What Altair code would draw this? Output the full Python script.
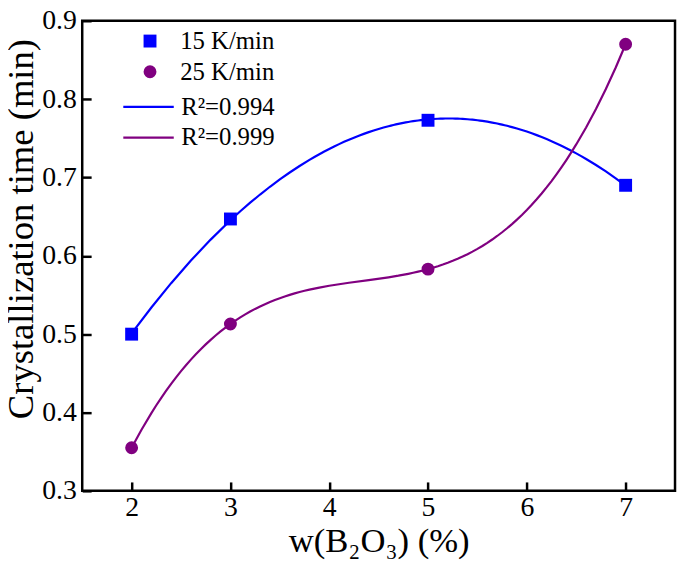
import altair as alt
import pandas as pd

# Data
w_b2o3 = [2, 3, 5, 7]
time_15 = [0.500, 0.647, 0.773, 0.690]
time_25 = [0.355, 0.513, 0.583, 0.870]
series_labels = ["15 K/min", "25 K/min"]
fit_labels = ["R²=0.994", "R²=0.999"]
fit_orders = [2, 3]
colors = ["#0000FF", "#800080"]
x_ticks = [2, 3, 4, 5, 6, 7]
y_ticks = [0.3, 0.4, 0.5, 0.6, 0.7, 0.8, 0.9]

df = pd.DataFrame({
    "x": w_b2o3 + w_b2o3,
    "y": time_15 + time_25,
    "rate": [series_labels[0]] * len(w_b2o3) + [series_labels[1]] * len(w_b2o3),
})

FONT = "Liberation Serif"

x_enc = alt.X("x:Q", scale=alt.Scale(domain=[1.5, 7.5], nice=False, zero=False),
              axis=alt.Axis(values=x_ticks, title="w(B₂O₃) (%)", format="d",
                            labelFont=FONT, titleFont=FONT, titleFontSize=35))
y_enc = alt.Y("y:Q", scale=alt.Scale(domain=[0.3, 0.9], nice=False, zero=False),
              axis=alt.Axis(values=y_ticks, title="Crystallization time (min)", format=".1f",
                            labelFont=FONT, titleFont=FONT, titleFontSize=37,
                            titleX=-51, titleY=210))

points = alt.Chart(df).mark_point(filled=True, opacity=1, size=170).encode(
    x=x_enc,
    y=y_enc,
    color=alt.Color("rate:N", scale=alt.Scale(domain=series_labels, range=colors),
                    legend=alt.Legend(orient="none", legendX=56, legendY=8, title=None,
                                      symbolSize=170, labelOffset=18, rowPadding=5,
                                      labelFont=FONT, symbolOpacity=1)),
    shape=alt.Shape("rate:N", scale=alt.Scale(domain=series_labels, range=["square", "circle"]),
                    legend=alt.Legend(orient="none", legendX=56, legendY=8, title=None,
                                      symbolSize=170, labelOffset=18, rowPadding=5,
                                      labelFont=FONT)),
)

fit_layers = []
for lab, order, src in zip(fit_labels, fit_orders, series_labels):
    fit_layers.append(
        alt.Chart(df)
        .transform_filter(alt.datum.rate == src)
        .transform_regression("x", "y", method="poly", order=order)
        .transform_calculate(fit=f"'{lab}'")
        .mark_line(strokeWidth=2.2)
        .encode(
            x=x_enc,
            y=y_enc,
            color=alt.Color("fit:N", scale=alt.Scale(domain=fit_labels, range=colors),
                            legend=alt.Legend(orient="none", legendX=53, legendY=73, title=None,
                                              symbolType="M-2,0H2", symbolSize=650,
                                              symbolStrokeWidth=2.2, labelOffset=19,
                                              rowPadding=4, labelFont=FONT)),
        )
    )

lines = alt.layer(*fit_layers)

chart = (
    alt.layer(lines, points)
    .resolve_scale(color="independent", shape="independent")
    .properties(width=599, height=475,
                autosize=alt.AutoSizeParams(type="none"),
                padding={"left": 75, "top": 10, "right": 2, "bottom": 70})
    .configure(font=FONT)
    .configure_view(stroke="black", strokeWidth=2.5)
    .configure_axis(
        domain=False, tickColor="black", tickWidth=2.5, tickSize=9, offset=-9,
        labelFont=FONT, labelFontSize=28, labelColor="black",
        titleFont=FONT, titleFontWeight="normal", titleColor="black",
        grid=False,
    )
    .configure_axisX(labelPadding=3, titlePadding=2)
    .configure_axisY(labelPadding=6)
    .configure_legend(labelFont=FONT, labelFontSize=25, labelColor="black")
)

chart.save("out.html", embed_options={"renderer": "svg", "actions": False})
